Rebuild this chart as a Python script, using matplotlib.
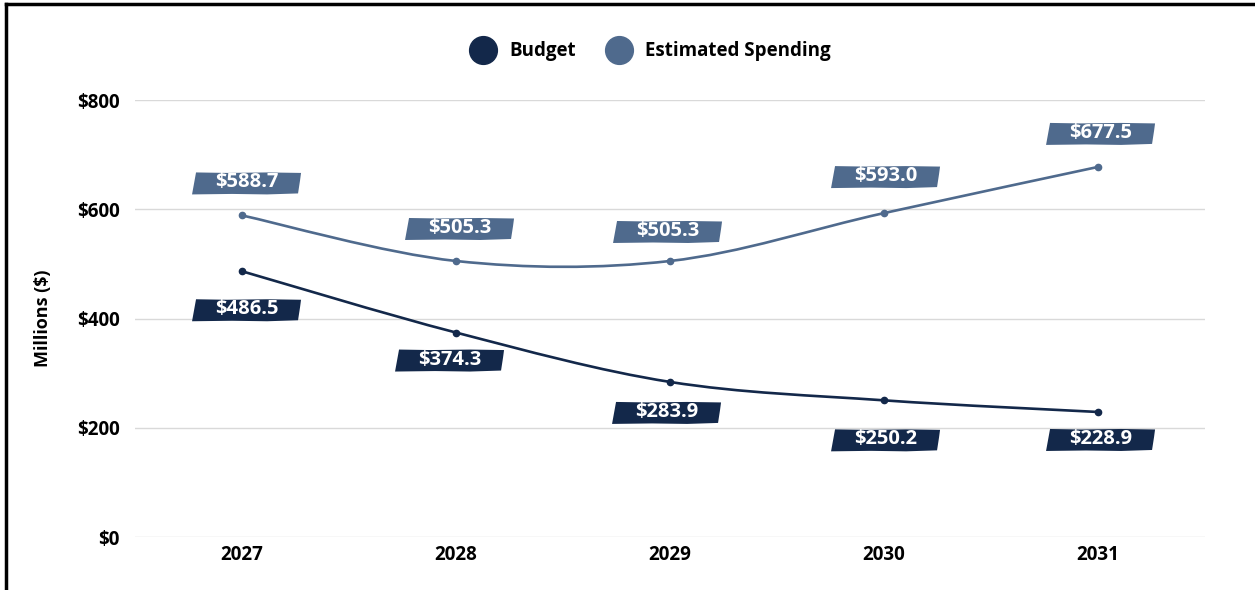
import matplotlib.pyplot as plt
import matplotlib.transforms as mtransforms
from matplotlib.lines import Line2D
from matplotlib.path import Path
from matplotlib.patches import PathPatch, Polygon

years = ["2027", "2028", "2029", "2030", "2031"]
budget = [486.5, 374.3, 283.9, 250.2, 228.9]
spending = [588.7, 505.3, 505.3, 593.0, 677.5]
y_ticks = [0, 200, 400, 600, 800]

BUDGET_COLOR = "#13284a"
SPEND_COLOR = "#4f6a8d"
FONT = "Open Sans"

# label box centre offsets from the point, in pixels (x right, y up)
budget_offsets = [(5, -39), (-6, -28), (-3, -31), (2, -40), (3, -28)]
spend_offsets = [(5, 32), (4, 32), (-2, 29), (2, 36), (3, 33)]

# rough brush-stroke outline of a label box, pixels around its centre
BRUSH = [(-51, 11), (-20, 10.5), (20, 11), (54, 10.5), (53, 3), (51, -10),
         (20, -11), (-15, -10.5), (-55, -11), (-53, 0)]


def smooth_path(xs, ys):
    """Cubic bezier through the points, like a spreadsheet 'smoothed line'."""
    pts = list(zip(xs, ys))
    n = len(pts)
    verts = [pts[0]]
    codes = [Path.MOVETO]
    for i in range(n - 1):
        p0 = pts[max(i - 1, 0)]
        p1 = pts[i]
        p2 = pts[i + 1]
        p3 = pts[min(i + 2, n - 1)]
        c1 = (p1[0] + (p2[0] - p0[0]) / 6, p1[1] + (p2[1] - p0[1]) / 6)
        c2 = (p2[0] - (p3[0] - p1[0]) / 6, p2[1] - (p3[1] - p1[1]) / 6)
        verts += [c1, c2, p2]
        codes += [Path.CURVE4] * 3
    return Path(verts, codes)


def draw_series(ax, fig, values, color, offsets):
    xs = list(range(len(values)))
    ax.add_patch(PathPatch(smooth_path(xs, values), facecolor="none",
                           edgecolor=color, lw=1.9, zorder=3))
    ax.plot(xs, values, "o", color=color, ms=4.5, zorder=4)
    for x, v, (dx, dy) in zip(xs, values, offsets):
        trans = fig.dpi_scale_trans + mtransforms.ScaledTranslation(x, v, ax.transData)
        verts = [((px + dx) / fig.dpi, (py + dy) / fig.dpi) for px, py in BRUSH]
        ax.add_patch(Polygon(verts, closed=True, facecolor=color, edgecolor="none",
                             transform=trans, clip_on=False, zorder=5))
        ax.text(dx / fig.dpi, (dy + 1) / fig.dpi, f"${v:.1f}", transform=trans,
                ha="center", va="center", color="white", fontsize=14.5,
                fontweight="bold", family=FONT, zorder=6)


fig = plt.figure(figsize=(12.55, 5.9), dpi=100)
ax = fig.add_axes([0.1076, 0.0898, 0.8526, 0.7407])

ax.set_xlim(-0.5, len(years) - 0.5)
ax.set_ylim(0, 800)
ax.set_yticks(y_ticks)
ax.set_yticklabels([f"${t}" for t in y_ticks])
ax.set_xticks(range(len(years)))
ax.set_xticklabels(years)
ax.tick_params(length=0, labelsize=13.5)
ax.tick_params(axis="y", pad=11)
ax.tick_params(axis="x", pad=6)
for lab in ax.get_xticklabels() + ax.get_yticklabels():
    lab.set_fontweight("bold")
    lab.set_family(FONT)

ax.grid(axis="y", color="#d9d9d9", lw=1)
ax.set_axisbelow(True)
for s in ax.spines.values():
    s.set_visible(False)

ax.set_ylabel("Millions ($)", fontsize=13, fontweight="bold", family=FONT, labelpad=18)

draw_series(ax, fig, spending, SPEND_COLOR, spend_offsets)
draw_series(ax, fig, budget, BUDGET_COLOR, budget_offsets)

handles = [
    Line2D([], [], ls="none", marker="o", ms=20, color=BUDGET_COLOR, label="Budget"),
    Line2D([], [], ls="none", marker="o", ms=20, color=SPEND_COLOR, label="Estimated Spending"),
]
fig.legend(handles=handles, loc="center", bbox_to_anchor=(0.516, 0.913), ncol=2,
           frameon=False, handletextpad=0.4, columnspacing=1.3,
           prop={"family": FONT, "weight": "bold", "size": 13.5})

# outer frame (top and left edges)
fig.add_artist(Line2D([0.005, 1], [0.994, 0.994], color="black", lw=2.5))
fig.add_artist(Line2D([0.005, 0.005], [0, 0.994], color="black", lw=2.5))

fig.savefig("out.png", dpi=100)
